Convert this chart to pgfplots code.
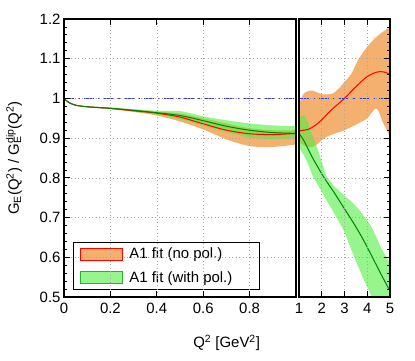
\documentclass[border=0pt]{standalone}
\usepackage{fontspec}
\setmainfont{Liberation Sans}
\usepackage{pgfplots}
\usepackage{pgfplotstable}
\pgfplotsset{compat=1.18}
\usepgfplotslibrary{fillbetween}
\definecolor{bandO}{RGB}{240,142,48}
\definecolor{bandG}{RGB}{80,238,63}
\definecolor{legO}{RGB}{245,176,110}
\definecolor{legG}{RGB}{150,245,140}
\definecolor{lineG}{RGB}{0,130,0}
\definecolor{legGb}{RGB}{40,180,40}
\definecolor{dipB}{RGB}{50,50,245}

\pgfplotstableread{
x    red   rlo   rhi   grn   glo   ghi
0.00 1.000 0.999 1.001 1.000 0.999 1.001
0.02 0.990 0.989 0.991 0.990 0.989 0.991
0.05 0.983 0.982 0.984 0.983 0.982 0.984
0.10 0.979 0.978 0.980 0.979 0.978 0.980
0.20 0.975 0.973 0.977 0.975 0.973 0.977
0.30 0.969 0.966 0.972 0.970 0.967 0.973
0.40 0.963 0.957 0.967 0.964 0.959 0.969
0.50 0.953 0.942 0.962 0.957 0.948 0.968
0.60 0.936 0.922 0.950 0.944 0.932 0.955
0.70 0.920 0.897 0.937 0.930 0.915 0.945
0.80 0.911 0.880 0.925 0.920 0.902 0.937
0.90 0.909 0.878 0.920 0.914 0.898 0.932
1.00 0.912 0.884 0.920 0.912 0.900 0.930
}\leftdata

\pgfplotstableread{
x   red   rlo   rhi
1.0 0.918 0.890 0.985
1.2 0.920 0.882 1.012
1.4 0.922 0.878 1.018
1.6 0.928 0.878 1.020
1.8 0.936 0.885 1.015
2.0 0.946 0.895 1.011
2.2 0.958 0.903 1.010
2.5 0.975 0.910 1.013
2.8 0.990 0.916 1.028
3.0 1.000 0.920 1.042
3.3 1.018 0.928 1.062
3.6 1.035 0.937 1.097
4.0 1.055 0.950 1.130
4.4 1.066 0.975 1.155
4.7 1.067 0.938 1.168
5.0 1.061 0.904 1.181
}\rightO

\pgfplotstableread{
x   grn   glo   ghi
1.0 0.912 0.876 0.950
1.2 0.895 0.858 0.958
1.4 0.873 0.835 0.938
1.6 0.850 0.805 0.905
1.8 0.830 0.785 0.875
2.0 0.810 0.765 0.840
2.2 0.792 0.745 0.805
2.5 0.767 0.715 0.782
2.8 0.740 0.685 0.765
3.0 0.722 0.663 0.755
3.4 0.686 0.605 0.735
3.8 0.647 0.550 0.708
4.2 0.603 0.500 0.675
4.6 0.558 0.450 0.625
5.0 0.515 0.400 0.585
}\rightG

\pgfplotsset{
  panel/.style={
    scale only axis, height=278bp, ymin=0.5, ymax=1.2,
    ytick={0.5,0.6,0.7,0.8,0.9,1,1.1,1.2}, minor y tick num=4,
    tick align=inside, major tick length=6bp, minor tick length=3bp,
    tick style={black, line width=0.8bp},
    axis line style={line width=1.1bp},
    grid=major,
    major grid style={gray!70, line width=0.6bp, dash pattern=on 1bp off 2.5bp},
    xtick pos=both, xticklabel pos=left,
    axis on top,
    font=\fontsize{15}{18}\selectfont,
    /pgf/number format/assume math mode=true,
    xticklabel style={yshift=-3bp},
  }
}

\begin{document}
\begin{tikzpicture}
\begin{axis}[panel,
  at={(64bp,64bp)}, anchor=south west, width=232bp,
  xmin=0, xmax=1, xtick={0,0.2,0.4,0.6,0.8},
  ytick pos=left,
  ylabel={G\textsubscript{E}(Q\textsuperscript{2}) / G\rlap{\textsubscript{E}}\textsuperscript{dip}(Q\textsuperscript{2})},
  ylabel style={at={(axis description cs:-0.2155,0.5)}, anchor=center},
  xlabel={Q\textsuperscript{2} [GeV\textsuperscript{2}]},
  xlabel style={at={(axis description cs:0.701,-0.1655)}, anchor=center},
  legend cell align=left,
  legend style={at={(axis description cs:0.039,0.025)}, anchor=south west,
    draw=black, line width=0.9bp, row sep=7bp, inner xsep=7bp, inner ysep=4bp,
    font=\fontsize{15}{18}\selectfont},
]
\addlegendimage{legend image code/.code={\draw[fill=legO, draw=red, line width=0.9bp] (0bp,-6bp) rectangle (42bp,6bp);}}
\addlegendentry{\hspace*{4bp}A1 fit (no pol.)}
\addlegendimage{legend image code/.code={\draw[fill=legG, draw=legGb, line width=0.9bp] (0bp,-6bp) rectangle (42bp,6bp);}}
\addlegendentry{\hspace*{4bp}A1 fit (with pol.)\hspace*{18bp}}
\addplot[dipB, line width=1.5bp, dash pattern=on 10bp off 4bp on 2bp off 4bp, forget plot] coordinates {(0,1) (1,1)};
\addplot[name path=ol, draw=none, smooth, forget plot] table[x=x,y=rlo]{\leftdata};
\addplot[name path=oh, draw=none, smooth, forget plot] table[x=x,y=rhi]{\leftdata};
\addplot[fill=bandO, draw=none, fill opacity=0.7, forget plot] fill between[of=ol and oh];
\addplot[name path=gl, draw=none, smooth, forget plot] table[x=x,y=glo]{\leftdata};
\addplot[name path=gh, draw=none, smooth, forget plot] table[x=x,y=ghi]{\leftdata};
\addplot[fill=bandG, draw=none, fill opacity=0.6, forget plot] fill between[of=gl and gh];
\addplot[red, line width=1bp, smooth, forget plot] table[x=x,y=red]{\leftdata};
\addplot[lineG, line width=1bp, smooth, forget plot] table[x=x,y=grn]{\leftdata};
\end{axis}
\begin{axis}[panel,
  at={(299bp,64bp)}, anchor=south west, width=91bp,
  xmin=1, xmax=5, xtick={1,2,3,4,5},
  ytick pos=right, yticklabels={}, yticklabel style={opacity=0},
]
\addplot[dipB, line width=1.5bp, dash pattern=on 10bp off 4bp on 2bp off 4bp, forget plot] coordinates {(1,1) (5,1)};
\addplot[name path=rol, draw=none, smooth, forget plot] table[x=x,y=rlo]{\rightO};
\addplot[name path=roh, draw=none, smooth, forget plot] table[x=x,y=rhi]{\rightO};
\addplot[fill=bandO, draw=none, fill opacity=0.7, forget plot] fill between[of=rol and roh];
\addplot[name path=rgl, draw=none, smooth, forget plot] table[x=x,y=glo]{\rightG};
\addplot[name path=rgh, draw=none, smooth, forget plot] table[x=x,y=ghi]{\rightG};
\addplot[fill=bandG, draw=none, fill opacity=0.6, forget plot] fill between[of=rgl and rgh];
\addplot[red, line width=1bp, smooth, forget plot] table[x=x,y=red]{\rightO};
\addplot[lineG, line width=1bp, smooth, forget plot] table[x=x,y=grn]{\rightG};
\end{axis}
\pgfresetboundingbox
\path[use as bounding box] (0,0) rectangle (415bp,361bp);
\end{tikzpicture}
\end{document}
